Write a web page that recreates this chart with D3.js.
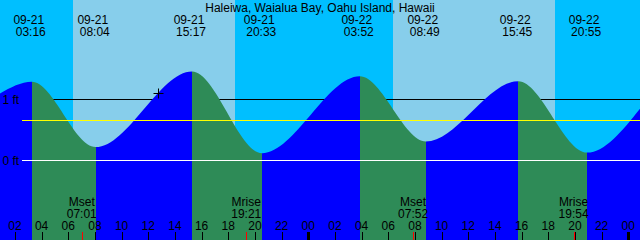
<!DOCTYPE html>
<html>
<head>
<meta charset="utf-8">
<script src="https://cdn.jsdelivr.net/npm/d3@7"></script>
<style>
  html, body { margin: 0; padding: 0; background: #fff; }
  svg { display: block; }
  text { font-family: "Liberation Sans", Arial, sans-serif; font-size: 12px; fill: #000; }
</style>
</head>
<body>
<div id="chart"></div>
<script>
var title = "Haleiwa, Waialua Bay, Oahu Island, Hawaii";

// window shown (48 h)
var startTime = "2025-09-21 00:53";
var endTime = "2025-09-23 00:53";

// tide curve: edge readings + highs/lows (ft)
var tideTimes = ["2025-09-21 00:53", "2025-09-21 03:16", "2025-09-21 08:04", "2025-09-21 15:17", "2025-09-21 20:33",
                 "2025-09-22 03:52", "2025-09-22 08:49", "2025-09-22 15:45", "2025-09-22 20:55", "2025-09-23 00:53"];
var tideHeights = [1.10, 1.29, 0.22, 1.46, 0.12, 1.38, 0.31, 1.30, 0.13, 0.85];
var tideLabelled = [false, true, true, true, true, true, true, true, true, false];

var sunTimes = ["2025-09-21 06:21", "2025-09-21 18:30", "2025-09-22 06:21", "2025-09-22 18:30"];

var moonTimes = ["2025-09-21 07:01", "2025-09-21 19:21", "2025-09-22 07:52", "2025-09-22 19:54"];
var moonNames = ["Mset", "Mrise", "Mset", "Mrise"];

var depthLines = [1, 0];
var depthLabels = ["1 ft", "0 ft"];
var mslHeight = 0.656;

var nowTime = "2025-09-21 12:43";
var nowHeight = 1.10;

var width = 640, height = 240;
var parse = d3.utcParse("%Y-%m-%d %H:%M");

var x = d3.scaleUtc()
    .domain([parse(startTime), parse(endTime)])
    .range([0, width]);

var y = d3.scaleLinear()
    .domain([0, 1])
    .range([160.5, 99.5]);

var svg = d3.select("#chart")
    .append("svg")
    .attr("width", width)
    .attr("height", height);

// day / night background
var edges = [parse(startTime)].concat(sunTimes.map(parse)).concat([parse(endTime)]);
var sky = d3.pairs(edges).map(function(p, i) { return { a: p[0], b: p[1], night: i % 2 == 0 }; });

svg.selectAll("rect.sky")
    .data(sky)
    .enter()
    .append("rect")
    .attr("class", "sky")
    .attr("x", function(d) { return x(d.a); })
    .attr("width", function(d) { return x(d.b) - x(d.a); })
    .attr("y", 0)
    .attr("height", height)
    .attr("fill", function(d) { return d.night ? "#00bfff" : "#87ceeb"; })
    .attr("shape-rendering", "crispEdges");

// 1 ft depth line sits under the water
svg.append("line")
    .attr("x1", 22).attr("x2", width)
    .attr("y1", y(depthLines[0])).attr("y2", y(depthLines[0]))
    .attr("stroke", "#000")
    .attr("shape-rendering", "crispEdges");

var tide = tideTimes.map(function(t, i) { return { t: parse(t), h: tideHeights[i], label: tideLabelled[i] }; });

var area = d3.area()
    .x(function(d) { return x(d.t); })
    .y0(height)
    .y1(function(d) { return y(d.h); })
    .curve(d3.curveMonotoneX);

svg.append("clipPath")
    .attr("id", "water")
    .append("path")
    .attr("d", area(tide));

var segs = d3.pairs(tide).map(function(p) { return { a: p[0], b: p[1], rising: p[1].h > p[0].h }; });

svg.append("g")
    .attr("clip-path", "url(#water)")
    .selectAll("rect")
    .data(segs)
    .enter()
    .append("rect")
    .attr("x", function(d) { return x(d.a.t); })
    .attr("width", function(d) { return x(d.b.t) - x(d.a.t); })
    .attr("y", 0)
    .attr("height", height)
    .attr("fill", function(d) { return d.rising ? "#0000ff" : "#2e8b57"; })
    .attr("shape-rendering", "crispEdges");

// msl and datum lines on top
svg.append("line")
    .attr("x1", 22).attr("x2", width)
    .attr("y1", y(mslHeight)).attr("y2", y(mslHeight))
    .attr("stroke", "#ffff00")
    .attr("shape-rendering", "crispEdges");

svg.append("line")
    .attr("x1", 22).attr("x2", width)
    .attr("y1", y(depthLines[1])).attr("y2", y(depthLines[1]))
    .attr("stroke", "#ffffff")
    .attr("shape-rendering", "crispEdges");

svg.selectAll("text.depth")
    .data(depthLines)
    .enter()
    .append("text")
    .attr("class", "depth")
    .attr("x", 2.5)
    .attr("y", function(d) { return y(d) + 4; })
    .text(function(d, i) { return depthLabels[i]; });

// now marker
var nx = Math.round(x(parse(nowTime))) + 0.5, ny = Math.round(y(nowHeight)) + 0.5;
svg.append("path")
    .attr("d", "M" + (nx - 5) + "," + ny + "H" + (nx + 5) + "M" + nx + "," + (ny - 5) + "V" + (ny + 5))
    .attr("stroke", "#000");

// title
svg.append("text")
    .attr("x", width / 2)
    .attr("y", 12)
    .attr("text-anchor", "middle")
    .text(title);

// high / low labels
var fmtDate = d3.utcFormat("%m-%d"), fmtTime = d3.utcFormat("%H:%M");
var ev = svg.selectAll("g.event")
    .data(tide.filter(function(d) { return d.label; }))
    .enter()
    .append("g")
    .attr("class", "event");

ev.append("text")
    .attr("x", function(d) { return x(d.t) - 3; })
    .attr("y", 24)
    .attr("text-anchor", "middle")
    .text(function(d) { return fmtDate(d.t); });

ev.append("text")
    .attr("x", function(d) { return x(d.t) - 1; })
    .attr("y", 36)
    .attr("text-anchor", "middle")
    .text(function(d) { return fmtTime(d.t); });

// moon rise / set
var moon = moonTimes.map(function(t, i) { return { t: parse(t), name: moonNames[i] }; });
var mg = svg.selectAll("g.moon")
    .data(moon)
    .enter()
    .append("g")
    .attr("class", "moon");

mg.append("text")
    .attr("x", function(d) { return x(d.t); })
    .attr("y", 206)
    .attr("text-anchor", "middle")
    .text(function(d) { return d.name; });

mg.append("text")
    .attr("x", function(d) { return x(d.t); })
    .attr("y", 217.5)
    .attr("text-anchor", "middle")
    .text(function(d) { return fmtTime(d.t); });

mg.append("line")
    .attr("x1", function(d) { return Math.round(x(d.t)) + 0.5; })
    .attr("x2", function(d) { return Math.round(x(d.t)) + 0.5; })
    .attr("y1", 232).attr("y2", height)
    .attr("stroke", "#ff0000");

// hour axis
var ticks = x.ticks(d3.utcHour.every(2));
var fmtHour = d3.utcFormat("%H");

svg.selectAll("text.hour")
    .data(ticks)
    .enter()
    .append("text")
    .attr("class", "hour")
    .attr("x", function(d) { return x(d); })
    .attr("y", 229.5)
    .attr("text-anchor", "middle")
    .text(function(d) { return fmtHour(d); });

svg.selectAll("line.hour")
    .data(ticks)
    .enter()
    .append("line")
    .attr("class", "hour")
    .attr("x1", function(d) { return Math.round(x(d)) + 0.5; })
    .attr("x2", function(d) { return Math.round(x(d)) + 0.5; })
    .attr("y1", 232).attr("y2", height)
    .attr("stroke", "#000")
    .attr("stroke-width", function(d) { return d.getUTCHours() == 0 ? 3 : 1; });
</script>
</body>
</html>
